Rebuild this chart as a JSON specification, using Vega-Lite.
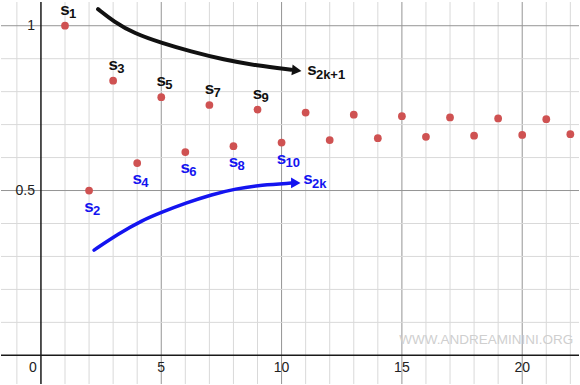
{
  "$schema": "https://vega.github.io/schema/vega-lite/v6.json",
  "width": 580,
  "height": 385,
  "autosize": {"type": "fit", "contains": "padding"},
  "padding": 0,
  "background": "white",
  "config": {"view": {"stroke": null}, "axis": {"disable": true}, "text": {"font": "Liberation Sans"}},
  "resolve": {"scale": {"color": "independent", "strokeWidth": "independent"}},
  "datasets": {
    "sums": [
      {"n": 1, "s": 1.0}, {"n": 2, "s": 0.5}, {"n": 3, "s": 0.8333}, {"n": 4, "s": 0.5833},
      {"n": 5, "s": 0.7833}, {"n": 6, "s": 0.6167}, {"n": 7, "s": 0.7595}, {"n": 8, "s": 0.6345},
      {"n": 9, "s": 0.7456}, {"n": 10, "s": 0.6456}, {"n": 11, "s": 0.7365}, {"n": 12, "s": 0.6532},
      {"n": 13, "s": 0.7301}, {"n": 14, "s": 0.6587}, {"n": 15, "s": 0.7254}, {"n": 16, "s": 0.6629},
      {"n": 17, "s": 0.7218}, {"n": 18, "s": 0.6663}, {"n": 19, "s": 0.7189}, {"n": 20, "s": 0.6688},
      {"n": 21, "s": 0.7164}, {"n": 22, "s": 0.6709}
    ],
    "vgrid": [
      {"v": -1, "g": "minor"}, {"v": 1, "g": "minor"}, {"v": 2, "g": "minor"}, {"v": 3, "g": "minor"},
      {"v": 4, "g": "minor"}, {"v": 6, "g": "minor"}, {"v": 7, "g": "minor"}, {"v": 8, "g": "minor"},
      {"v": 9, "g": "minor"}, {"v": 11, "g": "minor"}, {"v": 12, "g": "minor"}, {"v": 13, "g": "minor"},
      {"v": 14, "g": "minor"}, {"v": 16, "g": "minor"}, {"v": 17, "g": "minor"}, {"v": 18, "g": "minor"},
      {"v": 19, "g": "minor"}, {"v": 21, "g": "minor"}, {"v": 22, "g": "minor"},
      {"v": 5, "g": "major"}, {"v": 10, "g": "major"}, {"v": 15, "g": "major"}, {"v": 20, "g": "major"}
    ],
    "hgrid": [
      {"v": 0.1, "g": "minor"}, {"v": 0.2, "g": "minor"}, {"v": 0.3, "g": "minor"}, {"v": 0.4, "g": "minor"},
      {"v": 0.6, "g": "minor"}, {"v": 0.7, "g": "minor"}, {"v": 0.8, "g": "minor"}, {"v": 0.9, "g": "minor"},
      {"v": 0.5, "g": "major"}, {"v": 1.0, "g": "major"}
    ],
    "labels": [
      {"n": 1, "s": 1.0, "sub": "1", "grp": "odd"},
      {"n": 3, "s": 0.8333, "sub": "3", "grp": "odd"},
      {"n": 5, "s": 0.7833, "sub": "5", "grp": "odd"},
      {"n": 7, "s": 0.7595, "sub": "7", "grp": "odd"},
      {"n": 9, "s": 0.7456, "sub": "9", "grp": "odd"},
      {"n": 2, "s": 0.5, "sub": "2", "grp": "even"},
      {"n": 4, "s": 0.5833, "sub": "4", "grp": "even"},
      {"n": 6, "s": 0.6167, "sub": "6", "grp": "even"},
      {"n": 8, "s": 0.6345, "sub": "8", "grp": "even"},
      {"n": 10, "s": 0.6456, "sub": "10", "grp": "even"}
    ],
    "biglabels": [
      {"x": 11.26, "y": 0.867, "sub": "2k+1", "grp": "odd"},
      {"x": 11.1, "y": 0.536, "sub": "2k", "grp": "even"}
    ],
    "curves": [
      {"curve": "odd", "i": 0, "x": 2.373, "y": 1.0503},
      {"curve": "odd", "i": 1, "x": 3.035, "y": 1.012},
      {"curve": "odd", "i": 2, "x": 3.863, "y": 0.977},
      {"curve": "odd", "i": 3, "x": 5.039, "y": 0.947},
      {"curve": "odd", "i": 4, "x": 6.211, "y": 0.922},
      {"curve": "odd", "i": 5, "x": 7.590, "y": 0.897},
      {"curve": "odd", "i": 6, "x": 8.973, "y": 0.879},
      {"curve": "odd", "i": 7, "x": 10.40, "y": 0.8665},
      {"curve": "even", "i": 0, "x": 2.207, "y": 0.3193},
      {"curve": "even", "i": 1, "x": 3.242, "y": 0.3696},
      {"curve": "even", "i": 2, "x": 4.211, "y": 0.4096},
      {"curve": "even", "i": 3, "x": 5.039, "y": 0.4346},
      {"curve": "even", "i": 4, "x": 6.004, "y": 0.4617},
      {"curve": "even", "i": 5, "x": 7.110, "y": 0.4880},
      {"curve": "even", "i": 6, "x": 8.075, "y": 0.5051},
      {"curve": "even", "i": 7, "x": 9.180, "y": 0.5172},
      {"curve": "even", "i": 8, "x": 10.40, "y": 0.5225}
    ],
    "arrows": [
      {"curve": "odd", "x": 10.63, "y": 0.8645, "angle": 6},
      {"curve": "even", "x": 10.59, "y": 0.5232, "angle": 0}
    ],
    "xticks": [
      {"v": 5, "t": "5"}, {"v": 10, "t": "10"}, {"v": 15, "t": "15"}, {"v": 20, "t": "20"}
    ],
    "yticks": [
      {"v": 1, "t": "1"}, {"v": 0.5, "t": "0.5"}
    ],
    "mark": [
      {"x": 18.51, "y": 0.048, "t": "WWW.ANDREAMININI.ORG"}
    ]
  },
  "layer": [
    {
      "data": {"name": "vgrid"},
      "mark": {"type": "rule", "strokeWidth": 1},
      "encoding": {
        "x": {"field": "v", "type": "quantitative", "scale": {"domain": [-1.66, 22.36], "nice": false, "zero": false}},
        "color": {"field": "g", "type": "nominal", "scale": {"domain": ["minor", "major"], "range": ["#d9d9d9", "#959595"]}, "legend": null}
      }
    },
    {
      "data": {"name": "hgrid"},
      "mark": {"type": "rule", "strokeWidth": 1},
      "encoding": {
        "y": {"field": "v", "type": "quantitative", "scale": {"domain": [-0.087, 1.072], "nice": false, "zero": false}},
        "color": {"field": "g", "type": "nominal", "scale": {"domain": ["minor", "major"], "range": ["#d9d9d9", "#959595"]}, "legend": null}
      }
    },
    {
      "data": {"values": [{}]},
      "mark": {"type": "rule", "color": "#1a1a1a", "strokeWidth": 1.5},
      "encoding": {"y": {"datum": 0, "type": "quantitative"}}
    },
    {
      "data": {"values": [{}]},
      "mark": {"type": "rule", "color": "#1a1a1a", "strokeWidth": 1.5},
      "encoding": {"x": {"datum": 0, "type": "quantitative"}}
    },
    {
      "data": {"name": "xticks"},
      "mark": {"type": "text", "fontSize": 14, "color": "#222", "dy": 13, "baseline": "middle", "align": "center"},
      "encoding": {
        "x": {"field": "v", "type": "quantitative"},
        "y": {"datum": 0, "type": "quantitative"},
        "text": {"field": "t"}
      }
    },
    {
      "data": {"values": [{"t": "0"}]},
      "mark": {"type": "text", "fontSize": 14, "color": "#222", "dy": 13, "dx": -8, "baseline": "middle", "align": "center"},
      "encoding": {
        "x": {"datum": 0, "type": "quantitative"},
        "y": {"datum": 0, "type": "quantitative"},
        "text": {"field": "t"}
      }
    },
    {
      "data": {"name": "yticks"},
      "mark": {"type": "text", "fontSize": 14, "color": "#222", "dx": -6, "baseline": "middle", "align": "right"},
      "encoding": {
        "x": {"datum": 0, "type": "quantitative"},
        "y": {"field": "v", "type": "quantitative"},
        "text": {"field": "t"}
      }
    },
    {
      "data": {"name": "mark"},
      "mark": {"type": "text", "fontSize": 13.5, "color": "#cfcfcf", "baseline": "middle", "align": "center"},
      "encoding": {
        "x": {"field": "x", "type": "quantitative"},
        "y": {"field": "y", "type": "quantitative"},
        "text": {"field": "t"}
      }
    },
    {
      "data": {"name": "curves"},
      "mark": {"type": "line", "interpolate": "basis", "strokeCap": "round"},
      "encoding": {
        "x": {"field": "x", "type": "quantitative"},
        "y": {"field": "y", "type": "quantitative"},
        "detail": {"field": "curve"},
        "order": {"field": "i", "type": "quantitative"},
        "color": {"field": "curve", "type": "nominal", "scale": {"domain": ["odd", "even"], "range": ["#111111", "#1414f0"]}, "legend": null},
        "strokeWidth": {"field": "curve", "type": "nominal", "scale": {"domain": ["odd", "even"], "range": [4, 3.5]}, "legend": null}
      }
    },
    {
      "data": {"name": "arrows"},
      "mark": {"type": "point", "shape": "triangle-right", "filled": true, "size": 120, "opacity": 1},
      "encoding": {
        "x": {"field": "x", "type": "quantitative"},
        "y": {"field": "y", "type": "quantitative"},
        "angle": {"field": "angle", "type": "quantitative", "scale": null},
        "color": {"field": "curve", "type": "nominal", "scale": {"domain": ["odd", "even"], "range": ["#111111", "#1414f0"]}, "legend": null}
      }
    },
    {
      "data": {"name": "sums"},
      "mark": {"type": "circle", "size": 60, "color": "#cf5252", "opacity": 1},
      "encoding": {
        "x": {"field": "n", "type": "quantitative"},
        "y": {"field": "s", "type": "quantitative"}
      }
    },
    {
      "data": {"name": "labels"},
      "transform": [{"filter": "datum.grp === 'odd'"}],
      "layer": [
        {
          "mark": {"type": "text", "text": "s", "fontSize": 17, "fontWeight": "bold", "color": "#111", "dy": -16, "baseline": "middle", "align": "center"},
          "encoding": {"x": {"field": "n", "type": "quantitative"}, "y": {"field": "s", "type": "quantitative"}}
        },
        {
          "mark": {"type": "text", "fontSize": 13, "fontWeight": "bold", "color": "#111", "dy": -12, "dx": 4, "baseline": "middle", "align": "left"},
          "encoding": {"x": {"field": "n", "type": "quantitative"}, "y": {"field": "s", "type": "quantitative"}, "text": {"field": "sub"}}
        }
      ]
    },
    {
      "data": {"name": "labels"},
      "transform": [{"filter": "datum.grp === 'even'"}],
      "layer": [
        {
          "mark": {"type": "text", "text": "s", "fontSize": 17, "fontWeight": "bold", "color": "#1414f0", "dy": 16, "baseline": "middle", "align": "center"},
          "encoding": {"x": {"field": "n", "type": "quantitative"}, "y": {"field": "s", "type": "quantitative"}}
        },
        {
          "mark": {"type": "text", "fontSize": 13, "fontWeight": "bold", "color": "#1414f0", "dy": 20, "dx": 4, "baseline": "middle", "align": "left"},
          "encoding": {"x": {"field": "n", "type": "quantitative"}, "y": {"field": "s", "type": "quantitative"}, "text": {"field": "sub"}}
        }
      ]
    },
    {
      "data": {"name": "biglabels"},
      "layer": [
        {
          "mark": {"type": "text", "text": "s", "fontSize": 17, "fontWeight": "bold", "baseline": "middle", "align": "center"},
          "encoding": {
            "x": {"field": "x", "type": "quantitative"}, "y": {"field": "y", "type": "quantitative"},
            "color": {"field": "grp", "type": "nominal", "scale": {"domain": ["odd", "even"], "range": ["#111111", "#1414f0"]}, "legend": null}
          }
        },
        {
          "mark": {"type": "text", "fontSize": 13, "fontWeight": "bold", "dy": 5, "dx": 4, "baseline": "middle", "align": "left"},
          "encoding": {
            "x": {"field": "x", "type": "quantitative"}, "y": {"field": "y", "type": "quantitative"},
            "text": {"field": "sub"},
            "color": {"field": "grp", "type": "nominal", "scale": {"domain": ["odd", "even"], "range": ["#111111", "#1414f0"]}, "legend": null}
          }
        }
      ]
    }
  ]
}
